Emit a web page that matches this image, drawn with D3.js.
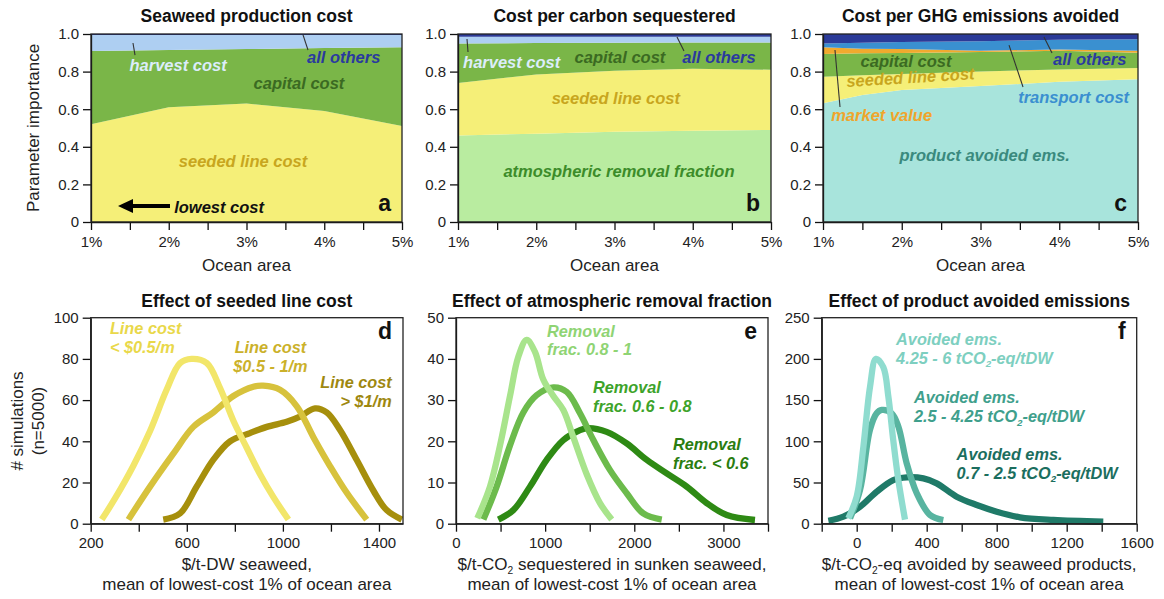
<!DOCTYPE html>
<html><head><meta charset="utf-8">
<script src="https://cdn.jsdelivr.net/npm/d3@7"></script>
<style>
body{margin:0;background:#fff;}
svg{display:block;}
</style></head><body>
<svg id="chart" width="1164" height="599"></svg>
<script>
// ---------------- DATA ----------------
// Top panels: parameter importance (layer thickness) vs ocean area (%)
const areaX_a = [1, 2, 3, 4, 5];
const a_seeded  = [0.52, 0.61, 0.63, 0.59, 0.51];
const a_capital = [0.39, 0.305, 0.29, 0.335, 0.42];
const a_harvest = [0.085, 0.08, 0.075, 0.07, 0.065];
const a_others  = [0.005, 0.005, 0.005, 0.005, 0.005];

const areaX_b = [1, 2, 3, 4, 5];
const b_atm     = [0.46, 0.47, 0.48, 0.485, 0.49];
const b_seeded  = [0.28, 0.315, 0.325, 0.33, 0.32];
const b_capital = [0.21, 0.167, 0.148, 0.14, 0.145];
const b_harvest = [0.036, 0.034, 0.033, 0.031, 0.031];
const b_others  = [0.014, 0.014, 0.014, 0.014, 0.014];

const areaX_c = [1, 1.5, 2, 3, 4, 5];
const c_product   = [0.631, 0.675, 0.702, 0.723, 0.746, 0.759];
const c_seeded    = [0.142, 0.105, 0.085, 0.078, 0.065, 0.06];
const c_capital   = [0.121, 0.117, 0.112, 0.103, 0.10, 0.081];
const c_market    = [0.036, 0.025, 0.021, 0.007, 0.007, 0.011];
const c_transport = [0.02, 0.031, 0.037, 0.051, 0.051, 0.061];
const c_others    = [0.05, 0.047, 0.043, 0.038, 0.031, 0.028];

const topXTicks = [1, 1.5, 2, 2.5, 3, 3.5, 4, 4.5, 5];
const topXLabels = [1, 2, 3, 4, 5];
const topYTicks = [0, 0.2, 0.4, 0.6, 0.8, 1.0];

// Bottom panels: # simulations distributions [cost, count]
const d_low  = [[246,2],[300,12],[377,28],[447,45],[516,65],[572,78],[620,80],[683,78],[738,66],[794,50],[849,37],[905,24],[960,13],[1023,2]];
const d_mid  = [[357,2],[447,18],[544,34],[627,47],[710,54],[794,62],[877,66.5],[918,67],[988,65],[1058,57],[1127,42],[1196,28],[1266,15],[1349,2]];
const d_high = [[502,2],[572,5],[641,18],[710,31],[780,40],[863,44],[933,47],[1016,49.5],[1071,52],[1134,56],[1183,54],[1238,45.5],[1307,31],[1377,16],[1432,6.6],[1495,2]];

const e_high = [[239,1.3],[381,9],[494,19],[606,31],[699,40.5],[793,44.6],[886,41.7],[979,35],[1092,31],[1204,27.6],[1316,21],[1466,12],[1615,5],[1747,1]];
const e_mid  = [[307,1],[456,9],[606,19],[755,27],[905,31.2],[1092,33.1],[1242,32],[1391,26.8],[1541,20.3],[1728,13],[1915,7.4],[2101,2.5],[2308,1]];
const e_low  = [[475,1],[643,3.3],[830,9],[1017,15.5],[1204,20.3],[1391,22.7],[1484,23.2],[1690,22.3],[1915,19.5],[2139,15.5],[2364,12.2],[2588,9],[2812,5],[3037,2.1],[3354,0.9]];

const f_high = [[-48,6.5],[0,33],[38,93],[76,166],[110,200],[152,190],[181,154],[209,101],[238,53],[276,5]];
const f_mid  = [[-38,6.5],[19,41],[76,114],[114,134],[143,138],[200,134],[238,118],[286,73],[343,37],[419,10.6],[495,4.5]];
const f_low  = [[-162,3.6],[-76,8.5],[19,20.6],[114,38.8],[209,53],[286,56.3],[381,55],[457,49],[571,32.8],[686,22.7],[800,14.6],[933,7.8],[1124,4.5],[1409,2.4]];

const d_xTicks = [200,400,600,800,1000,1200,1400], d_xLabels = [200,600,1000,1400], d_yTicks = [0,20,40,60,80,100];
const e_xTicks = [0,500,1000,1500,2000,2500,3000,3500], e_xLabels = [0,1000,2000,3000], e_yTicks = [0,10,20,30,40,50];
const f_xTicks = [-200,0,200,400,600,800,1000,1200,1400,1600], f_xLabels = [0,400,800,1200,1600], f_yTicks = [0,50,100,150,200,250];

// ---------------- DRAWING ----------------
const FONT = '"Liberation Sans", Arial, Helvetica, sans-serif';
const svg = d3.select("#chart").attr("font-family", FONT);
const TOP = {y0: 34, y1: 222};
const BOT = {y0: 317.7, y1: 523.7};

function styleAxis(a) {
  a.attr("font-family", FONT).attr("font-size", 15);
  a.selectAll("text").attr("fill", "#222");
  a.selectAll("line").attr("stroke", "#111").attr("stroke-width", 1.3);
  a.select(".domain").attr("stroke", "#111").attr("stroke-width", 1.3);
}
function axes(g, x, y, xt, xl, xfmt, yt, yfmt, w, h) {
  const ax = g.append("g").attr("transform", `translate(0,${h})`)
    .call(d3.axisBottom(x).tickValues(xt).tickFormat(d => xl.includes(d) ? xfmt(d) : "")
      .tickSizeInner(8).tickSizeOuter(0).tickPadding(6));
  const ay = g.append("g")
    .call(d3.axisLeft(y).tickValues(yt).tickFormat(yfmt).tickSizeInner(8).tickSizeOuter(0).tickPadding(4));
  styleAxis(ax); styleAxis(ay);
  g.append("rect").attr("width", w).attr("height", h).attr("fill", "none")
    .attr("stroke", "#222").attr("stroke-width", 1.3);
}
function title(cx, y, t) {
  svg.append("text").attr("x", cx).attr("y", y).attr("text-anchor", "middle")
    .attr("font-size", 17.5).attr("font-weight", "bold").attr("fill", "#111").text(t);
}
function letter(g, w, yb, t) {
  g.append("text").attr("x", w - 11).attr("y", yb).attr("text-anchor", "end")
    .attr("font-size", 23).attr("font-weight", "bold").attr("fill", "#111").text(t);
}
function label(g, x, y, lines, color, anchor, opts = {}) {
  const t = g.append("text").attr("x", x).attr("y", y).attr("text-anchor", anchor || "middle")
    .attr("font-size", opts.size || 16.5).attr("font-weight", "bold").attr("font-style", "italic")
    .attr("fill", color);
  if (opts.rotate) t.attr("transform", `rotate(${opts.rotate},${x},${y})`);
  lines.forEach((ln, i) => {
    const row = t.append("tspan").attr("x", x).attr("dy", i === 0 ? 0 : (opts.lh || 18.8));
    if (typeof ln === "string") row.text(ln);
    else {
      ln.forEach(([s, sub], k) => {
        const ts = row.append("tspan").text(s);
        if (sub) ts.attr("font-size", "0.6em").attr("dy", "0.35em");
        else if (k > 0 && ln[k - 1][1]) ts.attr("dy", "-0.21em");
      });
    }
  });
  return t;
}

// ---------- top area panels ----------
function areaPanel(p) {
  const w = p.x1 - p.x0, h = TOP.y1 - TOP.y0;
  const g = svg.append("g").attr("transform", `translate(${p.x0},${TOP.y0})`);
  const x = d3.scaleLinear().domain([1, 5]).range([0, w]);
  const y = d3.scaleLinear().domain([0, 1]).range([h, 0]);
  const table = p.xs.map((v, i) => { const r = {x: v}; p.layers.forEach(L => r[L.key] = L.values[i]); return r; });
  const series = d3.stack().keys(p.layers.map(L => L.key))(table);
  const area = d3.area().x(d => x(d.data.x)).y0(d => y(d[0])).y1(d => y(Math.min(1, d[1])));
  g.selectAll("path.layer").data(series).join("path").attr("class", "layer")
    .attr("d", area).attr("fill", (d, i) => p.layers[i].color);
  (p.leaders || []).forEach(([xa, ya, xb, yb]) => {
    g.append("line").attr("x1", x(xa)).attr("y1", y(ya)).attr("x2", x(xb)).attr("y2", y(yb))
      .attr("stroke", "#333").attr("stroke-width", 1.1);
  });
  p.labels.forEach(L => label(g, x(L.x), y(L.y), [L.t], L.c, L.anchor, {rotate: L.rot}));
  axes(g, x, y, topXTicks, topXLabels, d => d + "%", topYTicks, d => d === 0 ? "0" : d.toFixed(1), w, h);
  letter(g, w, h - 11.3, p.letter);
  g.append("text").attr("x", w / 2).attr("y", h + 49).attr("text-anchor", "middle")
    .attr("font-size", 17).attr("fill", "#222").text("Ocean area");
  title(p.x0 + w / 2, 21.7, p.title);
  return {g, x, y};
}

const C = {
  yellow: "#f5ef78", green: "#7ab648", lblue: "#aecff2", dblue: "#2b3a98",
  lgreen: "#b9eca0", teal: "#a8e4dc", orange: "#f1aa2e", tblue: "#3a90d0"
};
const T = {
  harvest: "#dcedfb", others: "#2a3a9e", capital: "#3b6a22", seeded: "#c8a61e",
  atm: "#3c8c2a", product: "#3a8a7e", market: "#f0a52c", transport: "#3a8fd0"
};

const pa = areaPanel({
  x0: 91, x1: 402, xs: areaX_a, letter: "a", title: "Seaweed production cost",
  layers: [
    {key: "seeded", values: a_seeded, color: C.yellow},
    {key: "capital", values: a_capital, color: C.green},
    {key: "harvest", values: a_harvest, color: C.lblue},
    {key: "others", values: a_others, color: C.dblue}],
  leaders: [[1.54, 0.952, 1.566, 0.888], [3.727, 0.995, 3.791, 0.915]],
  labels: [
    {t: "harvest cost", x: 2.12, y: 0.805, c: T.harvest},
    {t: "all others", x: 4.25, y: 0.847, c: T.others},
    {t: "capital cost", x: 3.675, y: 0.707, c: T.capital},
    {t: "seeded line cost", x: 2.955, y: 0.293, c: T.seeded},
    {t: "lowest cost", x: 2.07, y: 0.048, c: "#111", anchor: "start"}]
});
// arrow "lowest cost"
{
  const {g, x, y} = pa;
  const x1 = x(2.016), xt = x(1.347), yy = y(0.085);
  g.append("line").attr("x1", x1).attr("x2", xt + 12).attr("y1", yy).attr("y2", yy)
    .attr("stroke", "#000").attr("stroke-width", 4);
  g.append("path").attr("d", `M${xt},${yy} L${xt + 15},${yy - 7} L${xt + 15},${yy + 7} Z`).attr("fill", "#000");
}

areaPanel({
  x0: 458, x1: 771, xs: areaX_b, letter: "b", title: "Cost per carbon sequestered",
  layers: [
    {key: "atm", values: b_atm, color: C.lgreen},
    {key: "seeded", values: b_seeded, color: C.yellow},
    {key: "capital", values: b_capital, color: C.green},
    {key: "harvest", values: b_harvest, color: C.lblue},
    {key: "others", values: b_others, color: C.dblue}],
  leaders: [[1.115, 0.973, 1.128, 0.904], [3.799, 0.984, 3.888, 0.910]],
  labels: [
    {t: "harvest cost", x: 1.686, y: 0.821, c: T.harvest},
    {t: "capital cost", x: 3.07, y: 0.847, c: T.capital},
    {t: "all others", x: 4.335, y: 0.847, c: T.others},
    {t: "seeded line cost", x: 3.017, y: 0.628, c: T.seeded},
    {t: "atmospheric removal fraction", x: 3.057, y: 0.241, c: T.atm}]
});

areaPanel({
  x0: 823, x1: 1138, xs: areaX_c, letter: "c", title: "Cost per GHG emissions avoided",
  layers: [
    {key: "product", values: c_product, color: C.teal},
    {key: "seeded", values: c_seeded, color: C.yellow},
    {key: "capital", values: c_capital, color: C.green},
    {key: "market", values: c_market, color: C.orange},
    {key: "transport", values: c_transport, color: C.tblue},
    {key: "others", values: c_others, color: C.dblue}],
  leaders: [[1.152, 0.915, 1.216, 0.612], [3.362, 0.941, 3.54, 0.718], [3.806, 0.984, 3.908, 0.899]],
  labels: [
    {t: "capital cost", x: 2.054, y: 0.826, c: T.capital},
    {t: "seeded line cost", x: 2.114, y: 0.739, c: T.seeded, rot: -3.5},
    {t: "market value", x: 1.745, y: 0.539, c: T.market},
    {t: "all others", x: 4.387, y: 0.835, c: T.others},
    {t: "transport cost", x: 4.183, y: 0.635, c: T.transport},
    {t: "product avoided ems.", x: 3.053, y: 0.326, c: T.product}]
});

svg.append("text").attr("transform", "translate(39,128) rotate(-90)").attr("text-anchor", "middle")
  .attr("font-size", 17).attr("fill", "#222").text("Parameter importance");

// ---------- bottom distribution panels ----------
function distPanel(p) {
  const w = p.x1 - p.x0, h = BOT.y1 - BOT.y0;
  const g = svg.append("g").attr("transform", `translate(${p.x0},${BOT.y0})`);
  const x = d3.scaleLinear().domain(p.xd).range([0, w]);
  const y = d3.scaleLinear().domain(p.yd).range([h, 0]);
  const line = d3.line().x(d => x(d[0])).y(d => y(d[1])).curve(d3.curveCatmullRom.alpha(0.5));
  p.series.forEach(s => {
    g.append("path").attr("d", line(s.data)).attr("fill", "none").attr("stroke", s.color)
      .attr("stroke-width", 6.3).attr("stroke-linejoin", "round");
  });
  axes(g, x, y, p.xt, p.xl, d => String(d), p.yt, d => String(d), w, h);
  p.labels.forEach(L => label(g, x(L.x), y(L.y), L.lines, L.c, L.anchor, {size: 16.3, lh: 18.8}));
  letter(g, w, 21, p.letter);
  title(p.x0 + w / 2, 306.7, p.title);
  const xt = g.append("text").attr("text-anchor", "middle").attr("font-size", 17).attr("fill", "#222");
  p.xtitle.forEach((ln, i) => {
    const row = xt.append("tspan").attr("x", w / 2).attr("y", h + 46.5 + i * 20);
    if (typeof ln === "string") row.text(ln);
    else ln.forEach(([s, sub], k) => {
      const ts = row.append("tspan").text(s);
      if (sub) ts.attr("font-size", "0.6em").attr("dy", "0.35em");
      else if (k > 0 && ln[k - 1][1]) ts.attr("dy", "-0.21em");
    });
  });
}

const D = {d1: "#f2e66a", d2: "#d7c23c", d3: "#a68f0c", e1: "#a8e48c", e2: "#6cbb4c", e3: "#2e8a14",
           f1: "#8fdccf", f2: "#58b4a0", f3: "#1f7a68"};
const DT = {d1: "#e9d84a", d2: "#cbb12a", d3: "#9e8810", e1: "#8fd474", e2: "#3da32a", e3: "#2a7d10",
            f1: "#7dcfc0", f2: "#3f9f8c", f3: "#1b6e5e"};

distPanel({
  x0: 90.7, x1: 403, xd: [200, 1500], yd: [0, 100], letter: "d", title: "Effect of seeded line cost",
  xt: d_xTicks, xl: d_xLabels, yt: d_yTicks,
  series: [{data: d_high, color: D.d3}, {data: d_mid, color: D.d2}, {data: d_low, color: D.d1}],
  labels: [
    {lines: ["Line cost", "< $0.5/m"], x: 280, y: 91.9, c: DT.d1, anchor: "start"},
    {lines: ["Line cost", "$0.5 - 1/m"], x: 948, y: 83, c: DT.d2, anchor: "middle"},
    {lines: ["Line cost", "> $1/m"], x: 1453, y: 65.7, c: DT.d3, anchor: "end"}],
  xtitle: ["$/t-DW seaweed,", "mean of lowest-cost 1% of ocean area"]
});
distPanel({
  x0: 456, x1: 768, xd: [0, 3500], yd: [0, 50], letter: "e", title: "Effect of atmospheric removal fraction",
  xt: e_xTicks, xl: e_xLabels, yt: e_yTicks,
  series: [{data: e_low, color: D.e3}, {data: e_mid, color: D.e2}, {data: e_high, color: D.e1}],
  labels: [
    {lines: ["Removal", "frac. 0.8 - 1"], x: 1021, y: 45.4, c: DT.e1, anchor: "start"},
    {lines: ["Removal", "frac. 0.6 - 0.8"], x: 1537, y: 31.7, c: DT.e2, anchor: "start"},
    {lines: ["Removal", "frac. < 0.6"], x: 2434, y: 17.9, c: DT.e3, anchor: "start"}],
  xtitle: [[["$/t-CO", 0], ["2", 1], [" sequestered in sunken seaweed,", 0]], "mean of lowest-cost 1% of ocean area"]
});
distPanel({
  x0: 821.7, x1: 1136.7, xd: [-200, 1600], yd: [0, 250], letter: "f", title: "Effect of product avoided emissions",
  xt: f_xTicks, xl: f_xLabels, yt: f_yTicks,
  series: [{data: f_low, color: D.f3}, {data: f_mid, color: D.f2}, {data: f_high, color: D.f1}],
  labels: [
    {lines: ["Avoided ems.", [["4.25 - 6 tCO", 0], ["2", 1], ["-eq/tDW", 0]]], x: 225, y: 216.9, c: DT.f1, anchor: "start"},
    {lines: ["Avoided ems.", [["2.5 - 4.25 tCO", 0], ["2", 1], ["-eq/tDW", 0]]], x: 327, y: 146.1, c: DT.f2, anchor: "start"},
    {lines: ["Avoided ems.", [["0.7 - 2.5 tCO", 0], ["2", 1], ["-eq/tDW", 0]]], x: 571, y: 77.3, c: DT.f3, anchor: "start"}],
  xtitle: [[["$/t-CO", 0], ["2", 1], ["-eq avoided by seaweed products,", 0]], "mean of lowest-cost 1% of ocean area"]
});

svg.append("text").attr("transform", "translate(23,421) rotate(-90)").attr("text-anchor", "middle")
  .attr("font-size", 17).attr("fill", "#222").text("# simulations");
svg.append("text").attr("transform", "translate(44,421) rotate(-90)").attr("text-anchor", "middle")
  .attr("font-size", 17).attr("fill", "#222").text("(n=5000)");
</script>
</body></html>
